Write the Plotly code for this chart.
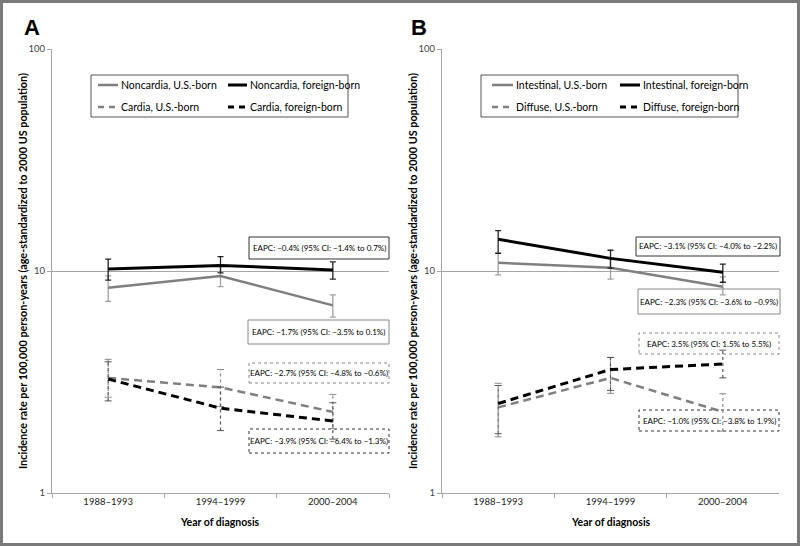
import plotly.graph_objects as go

# ---------------- data ----------------
periods = ["1988–1993", "1994–1999", "2000–2004"]

# Panel A
noncardia_us = [8.4, 9.5, 7.0]
noncardia_us_lo = [7.3, 8.5, 6.2]
noncardia_us_hi = [9.5, 10.5, 7.8]
noncardia_fb = [10.2, 10.6, 10.1]
noncardia_fb_lo = [9.1, 9.8, 9.2]
noncardia_fb_hi = [11.3, 11.6, 11.0]
cardia_us = [3.3, 2.99, 2.32]
cardia_us_lo = [2.7, 2.45, 1.95]
cardia_us_hi = [4.0, 3.6, 2.78]
cardia_fb = [3.26, 2.41, 2.11]
cardia_fb_lo = [2.6, 1.91, 1.75]
cardia_fb_hi = [3.9, 3.0, 2.55]

# Panel B
intestinal_us = [10.9, 10.35, 8.5]
intestinal_us_lo = [9.6, 9.2, 7.8]
intestinal_us_hi = [12.05, 11.5, 9.4]
intestinal_fb = [13.9, 11.4, 9.87]
intestinal_fb_lo = [12.0, 10.3, 8.9]
intestinal_fb_hi = [15.2, 12.4, 10.75]
diffuse_us = [2.43, 3.3, 2.32]
diffuse_us_lo = [1.79, 2.81, 1.9]
diffuse_us_hi = [3.12, 4.08, 2.8]
diffuse_fb = [2.53, 3.6, 3.81]
diffuse_fb_lo = [1.85, 2.9, 3.3]
diffuse_fb_hi = [3.05, 4.08, 4.4]

names_a = ["Noncardia, U.S.-born", "Noncardia, foreign-born",
           "Cardia, U.S.-born", "Cardia, foreign-born"]
names_b = ["Intestinal, U.S.-born", "Intestinal, foreign-born",
           "Diffuse, U.S.-born", "Diffuse, foreign-born"]

eapc_a = ["EAPC: −0.4% (95% CI: −1.4% to 0.7%)",
          "EAPC: −1.7% (95% CI: −3.5% to 0.1%)",
          "EAPC: −2.7% (95% CI: −4.8% to −0.6%)",
          "EAPC: −3.9% (95% CI: −6.4% to −1.3%)"]
eapc_b = ["EAPC: −3.1% (95% CI: −4.0% to −2.2%)",
          "EAPC: −2.3% (95% CI: −3.6% to −0.9%)",
          "EAPC: 3.5% (95% CI: 1.5% to 5.5%)",
          "EAPC: −1.0% (95% CI: −3.8% to 1.9%)"]

y_title = "Incidence rate per 100,000 person-years (age-standardized to 2000 US population)"
x_title = "Year of diagnosis"

# ---------------- styling ----------------
FONT = "Lato"
GRAY = "#7f7f7f"
BLACK = "#000000"
AXIS = "#a6a6a6"
DASH = "8px,5px"

W, H = 800, 546
L, R, T, B = 52, 21, 49, 53
PW, PH = W - L - R, H - T - B


def px(x):
    return (x - L) / PW


def py(y):
    return (H - B - y) / PH


fig = go.Figure()


def solid_series(xa, ya, vals, lo, hi, color, width, ecolor, name):
    fig.add_trace(go.Scatter(
        x=periods, y=vals, mode="lines", name=name, showlegend=False,
        line=dict(color=color, width=width), xaxis=xa, yaxis=ya,
        error_y=dict(type="data", symmetric=False,
                     array=[h - v for h, v in zip(hi, vals)],
                     arrayminus=[v - l for v, l in zip(vals, lo)],
                     color=ecolor, thickness=1.3, width=3)))


def dashed_series(xa, ya, vals, lo, hi, color, width, ecolor, name):
    ex, ey = [], []
    for p, l, h in zip(periods, lo, hi):
        ex += [p, p, None]
        ey += [l, h, None]
    fig.add_trace(go.Scatter(
        x=ex, y=ey, mode="lines", showlegend=False, hoverinfo="skip",
        line=dict(color=ecolor, width=1.2, dash="dot"), xaxis=xa, yaxis=ya))
    fig.add_trace(go.Scatter(
        x=periods + periods, y=list(lo) + list(hi), mode="markers",
        showlegend=False, hoverinfo="skip",
        marker=dict(symbol="line-ew", size=5, line=dict(color=ecolor, width=1)),
        xaxis=xa, yaxis=ya))
    fig.add_trace(go.Scatter(
        x=periods, y=vals, mode="lines", name=name, showlegend=False,
        line=dict(color=color, width=width, dash=DASH), xaxis=xa, yaxis=ya))


# Panel A
dashed_series("x", "y", cardia_us, cardia_us_lo, cardia_us_hi, GRAY, 2.5, "#8c8c8c", names_a[2])
dashed_series("x", "y", cardia_fb, cardia_fb_lo, cardia_fb_hi, BLACK, 3, "#555555", names_a[3])
solid_series("x", "y", noncardia_us, noncardia_us_lo, noncardia_us_hi, GRAY, 2.5, "#a0a0a0", names_a[0])
solid_series("x", "y", noncardia_fb, noncardia_fb_lo, noncardia_fb_hi, BLACK, 3, "#222222", names_a[1])
# Panel B
dashed_series("x2", "y2", diffuse_us, diffuse_us_lo, diffuse_us_hi, GRAY, 2.5, "#8c8c8c", names_b[2])
dashed_series("x2", "y2", diffuse_fb, diffuse_fb_lo, diffuse_fb_hi, BLACK, 3, "#555555", names_b[3])
solid_series("x2", "y2", intestinal_us, intestinal_us_lo, intestinal_us_hi, GRAY, 2.5, "#a0a0a0", names_b[0])
solid_series("x2", "y2", intestinal_fb, intestinal_fb_lo, intestinal_fb_hi, BLACK, 3, "#222222", names_b[1])

xaxis_common = dict(type="category", categoryorder="array", categoryarray=periods,
                    range=[-0.5, 2.5], showline=True, linecolor=AXIS, linewidth=1,
                    ticks="outside", ticklen=4, tickcolor=AXIS, tickson="boundaries",
                    showgrid=False, zeroline=False,
                    tickfont=dict(family=FONT, size=9.5, color="#222222"))
yaxis_common = dict(type="log", range=[0, 2], tickvals=[1, 10, 100],
                    ticktext=["1", "10", "100"], showline=True, linecolor=AXIS,
                    linewidth=1, ticks="outside", ticklen=4, tickcolor=AXIS,
                    showgrid=True, gridcolor=AXIS, gridwidth=1, zeroline=False,
                    tickfont=dict(family=FONT, size=9.5, color="#444444"))

xa_dom = [0, px(389)]
xb_dom = [px(442), 1]

fig.update_layout(
    width=W, height=H, margin=dict(l=L, r=R, t=T, b=B),
    paper_bgcolor="white", plot_bgcolor="rgba(0,0,0,0)", showlegend=False,
    xaxis=dict(domain=xa_dom, anchor="y", **xaxis_common),
    yaxis=dict(domain=[0, 1], anchor="x", **yaxis_common),
    xaxis2=dict(domain=xb_dom, anchor="y2", **xaxis_common),
    yaxis2=dict(domain=[0, 1], anchor="x2", **yaxis_common),
)

shapes = []
annotations = []


def note(text, x, y, size, xanchor="center", angle=0, family=FONT):
    annotations.append(dict(text=text, xref="paper", yref="paper",
                            x=px(x), y=py(y), xanchor=xanchor, yanchor="middle",
                            showarrow=False, textangle=angle,
                            font=dict(family=family, size=size, color="black")))


# outer frame
shapes.append(dict(type="rect", xref="paper", yref="paper",
                   x0=px(1.5), x1=px(W - 1.5), y0=py(H - 1.5), y1=py(1.5),
                   line=dict(color="#7a7a7a", width=3), layer="above"))

# panel letters
note("<b>A</b>", 32, 28, 22, family="Liberation Sans")
note("<b>B</b>", 419, 28, 22, family="Liberation Sans")

# axis titles
for xc_title, xc_ytitle in ((220, 22), (611, 412)):
    note(f"<b>{x_title}</b>", xc_title, 522, 10.5)
    note(f"<b>{y_title}</b>", xc_ytitle, 271, 10.8, angle=-90)


# legends (manual)
def legend(box, rows, names):
    x0, y0, x1, y1 = box
    shapes.append(dict(type="rect", xref="paper", yref="paper",
                       x0=px(x0), x1=px(x1), y0=py(y1), y1=py(y0),
                       line=dict(color="#555555", width=1), fillcolor="white",
                       layer="below"))
    specs = [(GRAY, 2.5, "solid"), (BLACK, 3, "solid"), (GRAY, 2.5, "6px,5px"), (BLACK, 3, "6px,5px")]
    for i, (name, (c, w, d)) in enumerate(zip(names, specs)):
        lx0, lx1, yy = rows[i]
        shapes.append(dict(type="line", xref="paper", yref="paper",
                           x0=px(lx0), x1=px(lx1), y0=py(yy), y1=py(yy),
                           line=dict(color=c, width=w, dash=d)))
        note(name, lx1 + 1, yy, 10.5, xanchor="left")


legend((91, 75, 348, 117), [(98, 118, 85), (228, 247, 85), (98, 118, 107), (228, 247, 107)], names_a)
legend((481, 75, 738, 117), [(492, 513, 85), (620, 640, 85), (492, 513, 107), (620, 640, 107)], names_b)


# EAPC boxes
def eapc_box(box, text, color, dash):
    x0, y0, x1, y1 = box
    shapes.append(dict(type="rect", xref="paper", yref="paper",
                       x0=px(x0), x1=px(x1), y0=py(y1), y1=py(y0),
                       line=dict(color=color, width=1, dash=dash), fillcolor="white",
                       layer="below"))
    note(text, (x0 + x1) / 2, (y0 + y1) / 2, 8)


eapc_box((249, 237, 389, 259), eapc_a[0], "#333333", "solid")
eapc_box((248, 320, 389, 344), eapc_a[1], "#888888", "solid")
eapc_box((249, 363, 389, 383), eapc_a[2], "#888888", "dot")
eapc_box((249, 429, 389, 453), eapc_a[3], "#333333", "dot")
eapc_box((636, 237, 780, 256), eapc_b[0], "#333333", "solid")
eapc_box((638, 289, 780, 314), eapc_b[1], "#888888", "solid")
eapc_box((639, 333, 779, 354), eapc_b[2], "#888888", "dot")
eapc_box((639, 410, 779, 431), eapc_b[3], "#333333", "dot")

fig.update_layout(shapes=shapes, annotations=annotations)
fig.write_html("out.html", config={"displayModeBar": False},
               post_script="document.body.style.margin='0px';")
